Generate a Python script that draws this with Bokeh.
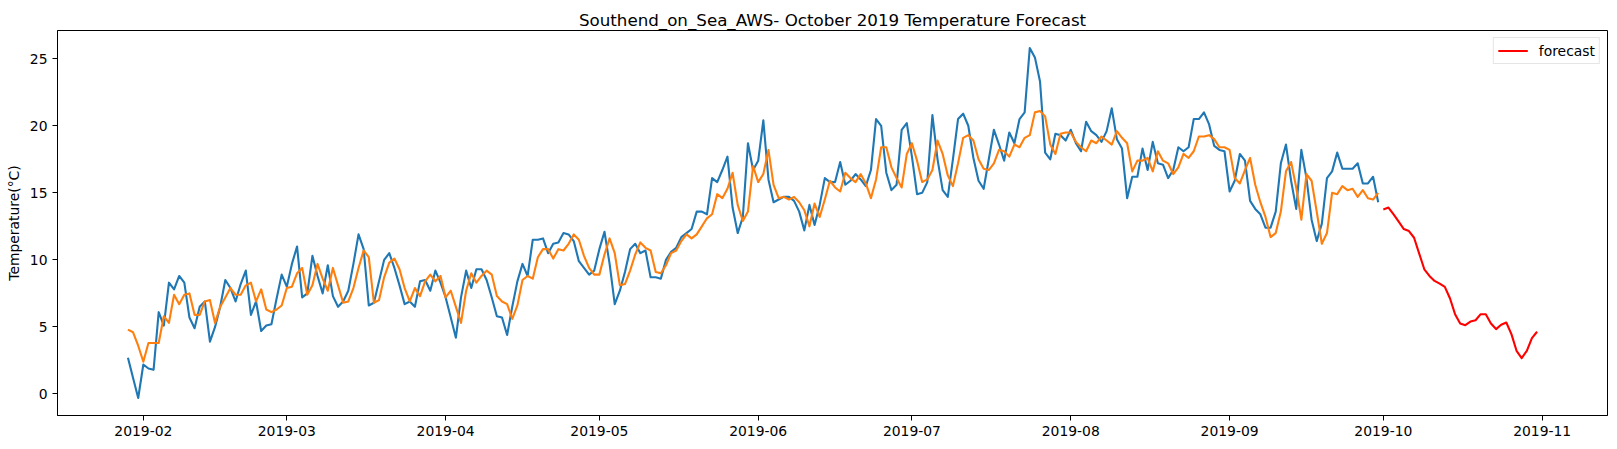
import pandas as pd
from bokeh.plotting import figure
from bokeh.models import Range1d, FixedTicker, DatetimeTickFormatter, ColumnDataSource
from bokeh.embed import file_html
from bokeh.resources import INLINE

title_text = "Southend_on_Sea_AWS- October 2019 Temperature Forecast"
y_label = "Temperature(°C)"
forecast_label = "forecast"

actual_start = "2019-01-29"
forecast_start = "2019-10-01"

# observed daily temperature (blue)
actual = [
    2.7, 1.2, -0.3, 2.2, 1.9, 1.8, 6.1, 5.1, 8.3, 7.8,
    8.8, 8.3, 5.7, 4.9, 6.5, 6.9, 3.9, 5.0, 6.5, 8.5,
    7.9, 6.9, 8.2, 9.2, 5.9, 6.9, 4.7, 5.1, 5.2, 7.1,
    8.9, 8.0, 9.7, 11.0, 7.2, 7.5, 10.3, 8.8, 7.5, 9.6,
    7.3, 6.5, 6.9, 7.7, 9.7, 11.9, 10.8, 6.6, 6.8, 8.4,
    10.0, 10.5, 9.4, 8.1, 6.7, 6.9, 6.5, 8.4, 8.5, 7.7,
    9.2, 8.3, 7.2, 5.7, 4.2, 7.2, 9.2, 7.9, 9.3, 9.3,
    8.5, 7.2, 5.8, 5.7, 4.4, 6.5, 8.4, 9.7, 8.8, 11.5,
    11.5, 11.6, 10.5, 11.2, 11.3, 12.0, 11.9, 11.4, 9.9, 9.4,
    8.9, 9.2, 10.8, 12.1, 9.7, 6.7, 7.7, 9.1, 10.8, 11.2,
    10.5, 10.7, 8.7, 8.7, 8.6, 10.0, 10.6, 10.9, 11.7, 12.0,
    12.3, 13.6, 13.6, 13.4, 16.1, 15.8, 16.7, 17.7, 13.9, 12.0,
    13.2, 18.7, 16.7, 17.4, 20.4, 16.0, 14.3, 14.5, 14.7, 14.7,
    14.4, 13.6, 12.2, 14.1, 12.6, 14.1, 16.1, 15.8, 15.8, 17.3,
    15.6, 15.9, 16.4, 16.0, 15.5, 16.7, 20.5, 20.0, 16.5, 15.2,
    15.6, 19.7, 20.2, 17.7, 14.9, 15.0, 15.8, 20.8, 17.5, 15.2,
    14.7, 17.5, 20.5, 20.9, 20.0, 17.6, 15.9, 15.3, 17.5, 19.7,
    18.6, 17.4, 19.5, 18.7, 20.5, 21.0, 25.8, 25.1, 23.3, 18.0,
    17.5, 19.4, 19.3, 18.9, 19.7, 18.7, 18.1, 20.3, 19.6, 19.3,
    18.8, 19.6, 21.3, 19.0, 18.3, 14.6, 16.2, 16.2, 18.3, 16.7,
    18.8, 17.2, 17.1, 16.1, 16.7, 18.4, 18.1, 18.4, 20.5, 20.5,
    21.0, 20.1, 18.5, 18.2, 18.1, 15.1, 15.9, 17.9, 17.4, 14.4,
    13.8, 13.4, 12.4, 12.4, 13.6, 17.2, 18.6, 15.9, 13.8, 18.2,
    16.1, 13.0, 11.4, 12.7, 16.1, 16.6, 18.0, 16.8, 16.8, 16.8,
    17.2, 15.7, 15.7, 16.2, 14.3,
]

# model fit (orange)
fitted = [
    4.8, 4.6, 3.6, 2.4, 3.8, 3.8, 3.8, 5.8, 5.3, 7.4,
    6.7, 7.4, 7.5, 5.9, 5.9, 6.9, 7.0, 5.3, 6.5, 7.2,
    7.9, 7.4, 7.4, 8.1, 8.3, 6.9, 7.8, 6.3, 6.1, 6.3,
    6.6, 7.9, 8.0, 9.0, 9.4, 7.4, 8.1, 9.7, 8.6, 7.7,
    9.4, 8.1, 6.8, 6.9, 7.9, 9.4, 10.7, 10.2, 6.8, 7.0,
    8.7, 9.8, 10.1, 9.3, 7.9, 6.9, 7.9, 7.3, 8.4, 8.9,
    8.4, 8.8, 7.2, 7.7, 6.5, 5.3, 7.7, 9.0, 8.3, 8.8,
    9.2, 8.9, 7.3, 6.9, 6.7, 5.6, 6.6, 8.5, 8.8, 8.6,
    10.2, 10.8, 10.8, 10.1, 10.8, 10.7, 11.2, 11.9, 11.5, 10.3,
    9.4, 8.9, 8.9, 10.4, 11.6, 10.5, 8.1, 8.2, 9.2, 10.4,
    11.3, 10.9, 10.7, 9.1, 9.0, 9.6, 10.5, 10.7, 11.4, 11.9,
    11.6, 11.9, 12.5, 13.1, 13.4, 14.9, 14.6, 15.3, 16.5, 14.1,
    12.9, 13.6, 17.0, 15.8, 16.4, 18.2, 15.6, 14.6, 14.7, 14.5,
    14.7, 14.3, 13.7, 12.5, 14.2, 13.2, 14.5, 15.9, 15.4, 15.1,
    16.5, 16.1, 15.8, 16.4, 15.7, 14.6, 16.0, 18.4, 18.4, 16.9,
    16.1, 15.4, 17.9, 18.7, 17.4, 15.8, 16.0, 16.7, 18.9, 17.9,
    16.3, 15.5, 17.2, 19.1, 19.3, 18.9, 17.5, 16.8, 16.7, 17.2,
    18.2, 18.1, 17.7, 18.6, 18.4, 19.1, 19.3, 21.0, 21.1, 20.7,
    18.6, 17.9, 19.4, 19.5, 19.5, 18.8, 18.4, 18.1, 18.9, 18.7,
    19.2, 18.9, 18.6, 19.6, 19.1, 18.7, 16.6, 17.4, 17.4, 17.6,
    16.6, 18.1, 17.4, 17.2, 16.4, 16.9, 17.9, 17.6, 18.1, 19.2,
    19.2, 19.3, 19.0, 18.4, 18.4, 18.2, 16.1, 15.7, 16.7, 17.6,
    15.6, 14.3, 13.2, 11.7, 12.0, 13.6, 16.6, 17.3, 15.4, 13.0,
    16.4, 15.9, 13.6, 11.2, 12.0, 15.0, 14.9, 15.5, 15.2, 15.3,
    14.7, 15.2, 14.6, 14.5, 15.0,
]

# October forecast (red)
forecast = [
    13.76, 13.9, 13.4, 12.85, 12.3, 12.15, 11.65, 10.47, 9.3, 8.8,
    8.43, 8.23, 7.99, 7.14, 5.95, 5.26, 5.13, 5.4, 5.5, 5.95,
    5.95, 5.26, 4.84, 5.16, 5.33, 4.46, 3.22, 2.68, 3.22, 4.17,
    4.64,
]

x_tick_labels = ["2019-02", "2019-03", "2019-04", "2019-05", "2019-06",
                 "2019-07", "2019-08", "2019-09", "2019-10", "2019-11"]
y_ticks = [0, 5, 10, 15, 20, 25]

FONT = "DejaVu Sans"

actual_dates = pd.date_range(actual_start, periods=len(actual), freq="D")
forecast_dates = pd.date_range(forecast_start, periods=len(forecast), freq="D")

src_actual = ColumnDataSource(dict(x=actual_dates, y=actual))
src_fitted = ColumnDataSource(dict(x=actual_dates, y=fitted))
src_forecast = ColumnDataSource(dict(x=forecast_dates, y=forecast))


def ms(ts):
    return pd.Timestamp(ts).timestamp() * 1000.0


x0 = ms(actual_dates[0])
x1 = ms(forecast_dates[-1])
xpad = 0.05 * (x1 - x0)
all_vals = actual + fitted + forecast
y0, y1 = min(all_vals), max(all_vals)
ypad = 0.05 * (y1 - y0)

p = figure(
    width=1609, height=441,
    x_axis_type="datetime",
    x_range=Range1d(x0 - xpad, x1 + xpad),
    y_range=Range1d(y0 - ypad, y1 + ypad),
    output_backend="svg",
    toolbar_location=None,
    min_border_left=57, min_border_right=2,
    min_border_top=30, min_border_bottom=26,
    background_fill_color="white",
    border_fill_color="white",
)

p.title.text = title_text
p.title.align = "center"
p.title.text_font = FONT
p.title.text_font_size = "16.7px"
p.title.text_font_style = "normal"
p.title.text_color = "black"
p.title.standoff = 2

p.line("x", "y", source=src_actual, line_color="#1f77b4", line_width=2.1, line_join="round")
p.line("x", "y", source=src_fitted, line_color="#ff7f0e", line_width=2.1, line_join="round")
p.line("x", "y", source=src_forecast, line_color="red", line_width=2.1, line_join="round",
       legend_label=forecast_label)

p.xgrid.visible = False
p.ygrid.visible = False
p.outline_line_color = "black"
p.outline_line_width = 1
p.outline_line_alpha = 1

p.xaxis.ticker = FixedTicker(ticks=[ms(t) for t in x_tick_labels])
fmt = "%Y-%m"
p.xaxis.formatter = DatetimeTickFormatter(
    microseconds=fmt, milliseconds=fmt, seconds=fmt, minsec=fmt, minutes=fmt,
    hourmin=fmt, hours=fmt, days=fmt, months=fmt, years=fmt)
p.yaxis.ticker = FixedTicker(ticks=y_ticks)
p.yaxis.axis_label = y_label

for ax in (p.xaxis, p.yaxis):
    ax.axis_line_color = "black"
    ax.major_tick_line_color = "black"
    ax.major_tick_out = 5
    ax.major_tick_in = 0
    ax.minor_tick_out = 0
    ax.minor_tick_in = 0
    ax.major_label_text_font = FONT
    ax.major_label_text_font_size = "13.9px"
    ax.major_label_text_color = "black"
    ax.axis_label_text_font = FONT
    ax.axis_label_text_font_size = "13.9px"
    ax.axis_label_text_font_style = "normal"
    ax.axis_label_text_color = "black"

p.xaxis.major_label_standoff = 5
p.yaxis.major_label_standoff = 5
p.yaxis.axis_label_standoff = 5

leg = p.legend[0]
leg.location = "top_right"
leg.margin = 7
leg.padding = 4
leg.spacing = 0
leg.glyph_width = 30
leg.glyph_height = 17
leg.label_height = 17
leg.label_standoff = 11
leg.label_text_font = FONT
leg.label_text_font_size = "13.9px"
leg.label_text_color = "black"
leg.border_line_color = "#cccccc"
leg.border_line_width = 1
leg.background_fill_alpha = 0.8

open("out.html", "w").write(file_html(p, INLINE))
